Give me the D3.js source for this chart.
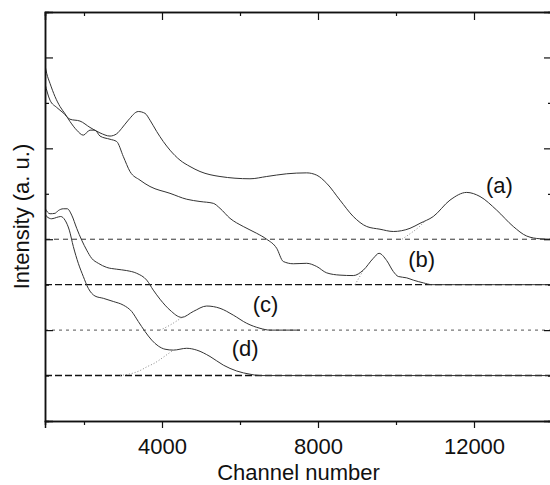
<!DOCTYPE html>
<html><head><meta charset="utf-8">
<script src="https://cdn.jsdelivr.net/npm/d3@7/dist/d3.min.js"></script>
<style>body{margin:0;background:#fff}</style>
</head><body><svg id="chart" width="550" height="485"></svg>
<script>
// ---- data ----
const channelDomain = [1000, 14000];
const intensityDomain = [0, 9];
const xMajorTicks = [4000, 8000, 12000];
const xMinorTicks = [2000, 6000, 10000];
const yMajorTicks = [2, 4, 6, 8];
const yMinorTicks = [1, 3, 5, 7];
const seriesLabels = ["(a)", "(b)", "(c)", "(d)"];
const baselines = [4, 3, 2, 1];

const curveA = [[1000,7.42],[1128,7.06],[1300,6.90],[1469,6.78],[1641,6.64],[1897,6.60],[2154,6.46],[2410,6.34],[2667,6.27],[2838,6.32],[2967,6.44],[3136,6.62],[3392,6.81],[3564,6.77],[3692,6.62],[3864,6.37],[4033,6.15],[4205,5.96],[4462,5.74],[4718,5.60],[4974,5.49],[5487,5.38],[6256,5.33],[6684,5.38],[7197,5.44],[7710,5.46],[7966,5.41],[8223,5.23],[8564,4.86],[8905,4.50],[9249,4.28],[9590,4.22],[9931,4.17],[10359,4.24],[10615,4.35],[10956,4.50],[11384,4.86],[11813,5.03],[12154,4.94],[12582,4.64],[13007,4.28],[13351,4.07],[13692,4.01],[14000,4.00]];
const curveB = [[1000,7.83],[1044,7.65],[1128,7.43],[1256,7.14],[1385,6.92],[1513,6.76],[1641,6.59],[1813,6.40],[1982,6.29],[2154,6.40],[2282,6.40],[2410,6.27],[2667,6.20],[2838,6.15],[3008,5.82],[3179,5.49],[3436,5.30],[3692,5.16],[4205,5.01],[4633,4.88],[4974,4.83],[5315,4.79],[5487,4.68],[5743,4.46],[6084,4.28],[6428,4.13],[6684,4.00],[6941,3.80],[7110,3.51],[7366,3.46],[7710,3.47],[7966,3.40],[8223,3.26],[8564,3.21],[8905,3.20],[9162,3.32],[9418,3.58],[9564,3.69],[9762,3.53],[9931,3.29],[10059,3.18],[10274,3.15],[10443,3.10],[10700,3.04],[10923,3.00],[14000,3.00]];
const curveC = [[1000,4.68],[1128,4.56],[1256,4.57],[1341,4.63],[1469,4.67],[1572,4.67],[1685,4.53],[1813,4.24],[1941,3.98],[2069,3.76],[2197,3.58],[2367,3.47],[2582,3.38],[2838,3.34],[3095,3.31],[3351,3.25],[3608,3.10],[3777,2.88],[3949,2.68],[4205,2.44],[4505,2.28],[4802,2.41],[5146,2.53],[5487,2.48],[5828,2.33],[6172,2.15],[6513,2.04],[6769,2.00],[7538,2.00]];
const curveD = [[1000,4.57],[1044,4.50],[1172,4.45],[1300,4.48],[1403,4.50],[1513,4.42],[1623,4.20],[1726,3.84],[1854,3.47],[1982,3.18],[2110,2.92],[2282,2.75],[2495,2.70],[2751,2.63],[3008,2.55],[3223,2.41],[3392,2.19],[3564,1.97],[3736,1.78],[3905,1.65],[4077,1.58],[4290,1.56],[4633,1.60],[4890,1.56],[5231,1.42],[5572,1.23],[5915,1.10],[6256,1.03],[6513,1.00],[14000,1.00]];

// fitted peak tails (dotted)
const fitA = [[10154,4.00],[10359,4.12],[10564,4.25],[10744,4.40]];
const fitB = [[8949,3.00],[9051,3.15],[9162,3.32]];
const fitC = [[3949,2.00],[4205,2.11],[4513,2.28]];
const fitD = [[2923,1.00],[3436,1.11],[3608,1.19],[3821,1.28],[4077,1.43],[4256,1.54]];

const labelAnchors = [[12308,5.02],[10315,3.39],[6326,2.40],[5787,1.43]];

// ---- drawing ----
const svg = d3.select("#chart");
const x = d3.scaleLinear().domain(channelDomain).range([45, 552]);
const y = d3.scaleLinear().domain(intensityDomain).range([421, 12]);
const font = "'Liberation Sans', Arial, Helvetica, sans-serif";

const clip = svg.append("defs").append("clipPath").attr("id","plot")
  .append("rect").attr("x",45).attr("y",12).attr("width",507).attr("height",409);

const g = svg.append("g").attr("clip-path","url(#plot)");

// baselines
const baseStyles = [
  {c:"#333", w:1, d:"5,4"},
  {c:"#111", w:1.4, d:"7,3"},
  {c:"#777", w:1.3, d:"3,4"},
  {c:"#111", w:1.4, d:"7,3"}
];
baselines.forEach((b,i)=>{
  g.append("line").attr("x1",x(channelDomain[0])).attr("x2",x(channelDomain[1]))
    .attr("y1",y(b)).attr("y2",y(b))
    .attr("stroke",baseStyles[i].c).attr("stroke-width",baseStyles[i].w)
    .attr("stroke-dasharray",baseStyles[i].d);
});

const line = d3.line().x(d=>x(d[0])).y(d=>y(d[1])).curve(d3.curveMonotoneX);

[fitA, fitB, fitC, fitD].forEach(f=>{
  g.append("path").attr("d", line(f)).attr("fill","none")
    .attr("stroke","#888").attr("stroke-width",1).attr("stroke-dasharray","1,2");
});

[curveA, curveB, curveC, curveD].forEach(c=>{
  g.append("path").attr("d", line(c)).attr("fill","none")
    .attr("stroke","#333").attr("stroke-width",1);
});

// axes
function styleAxis(sel){
  sel.select(".domain").attr("stroke","#111").attr("stroke-width",1.5);
  sel.selectAll(".tick line").attr("stroke","#111").attr("stroke-width",1.2);
  sel.selectAll("text").attr("font-family",font).attr("font-size",22).attr("fill","#111");
}
const bottomMajor = svg.append("g").attr("transform","translate(0,421)")
  .call(d3.axisBottom(x).tickValues(xMajorTicks).tickSize(7).tickPadding(10).tickFormat(d3.format("d")));
styleAxis(bottomMajor);
bottomMajor.selectAll("text").attr("dy","0.71em");
const bottomMinor = svg.append("g").attr("transform","translate(0,421)")
  .call(d3.axisBottom(x).tickValues(xMinorTicks).tickSize(4).tickFormat(""));
styleAxis(bottomMinor);

const topMajor = svg.append("g").attr("transform","translate(0,12)")
  .call(d3.axisTop(x).tickValues(xMajorTicks).tickSize(-8).tickFormat(""));
styleAxis(topMajor);
const topMinor = svg.append("g").attr("transform","translate(0,12)")
  .call(d3.axisTop(x).tickValues(xMinorTicks).tickSize(-4).tickFormat(""));
styleAxis(topMinor);

const leftMajor = svg.append("g").attr("transform","translate(45,0)")
  .call(d3.axisLeft(y).tickValues(yMajorTicks).tickSize(-8).tickFormat(""));
styleAxis(leftMajor);
const leftMinor = svg.append("g").attr("transform","translate(45,0)")
  .call(d3.axisLeft(y).tickValues(yMinorTicks).tickSize(-4).tickFormat(""));
styleAxis(leftMinor);

const rightMajor = svg.append("g").attr("transform","translate(552,0)")
  .call(d3.axisRight(y).tickValues(yMajorTicks).tickSize(-8).tickFormat(""));
styleAxis(rightMajor);
const rightMinor = svg.append("g").attr("transform","translate(552,0)")
  .call(d3.axisRight(y).tickValues(yMinorTicks).tickSize(-4).tickFormat(""));
styleAxis(rightMinor);

// axis titles
svg.append("text").attr("x", 298.5).attr("y", 480).attr("text-anchor","middle")
  .attr("font-family",font).attr("font-size",22).attr("fill","#111").text("Channel number");
svg.append("text").attr("transform","translate(29,216.5) rotate(-90)").attr("text-anchor","middle")
  .attr("font-family",font).attr("font-size",22).attr("fill","#111").text("Intensity (a. u.)");

// series labels
seriesLabels.forEach((t,i)=>{
  svg.append("text").attr("x", x(labelAnchors[i][0])).attr("y", y(labelAnchors[i][1]))
    .attr("font-family",font).attr("font-size",22).attr("fill","#111").text(t);
});
</script>
</body></html>
